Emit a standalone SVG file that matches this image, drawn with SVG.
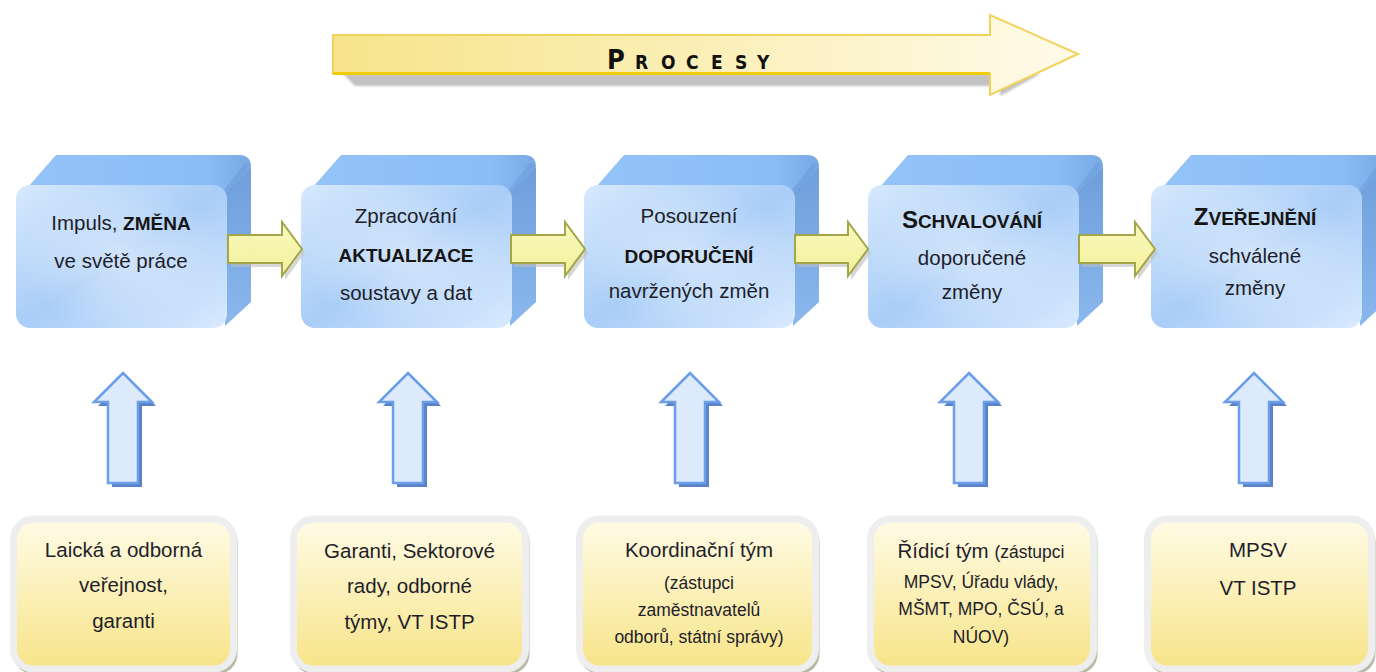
<svg xmlns="http://www.w3.org/2000/svg" xmlns:xlink="http://www.w3.org/1999/xlink" width="1376" height="672" viewBox="0 0 1376 672">
  <defs>
    <style>
      text { font-family: "Liberation Sans", Arial, sans-serif; fill: #1e1e2a; text-anchor: middle; }
      .t { font-size: 20.5px; }
      .b { font-weight: bold; font-size: 19px; fill: #151515; }
      .cap { font-weight: bold; font-size: 24px; fill: #151515; }
      .s { font-size: 17.5px; }
      .title { font-family: "Liberation Sans Narrow", "DejaVu Sans Condensed", "Liberation Sans", sans-serif; font-weight: bold; fill: #111; text-anchor: start; }
      .front { fill: url(#gFront); }
      .hl { fill: url(#gHl); }
      .topface { fill: url(#gTop); }
      .side { fill: url(#gSide); }
      .bevel { stroke: #6a98d4; stroke-width: 6; stroke-opacity: 0.45; stroke-linecap: round; }
      .actor { fill: url(#gYellow); stroke: #eeeeee; stroke-width: 7; }
      .actorShadow { fill: #b6bba8; }
      .flow { fill: url(#gFlow); stroke: #a2a648; stroke-width: 2; stroke-linejoin: miter; }
      .flowShadow { fill: #bdbdbd; opacity: 0.6; }
      .up { fill: #dceafc; stroke: #6a9ee8; stroke-width: 2.5; stroke-linejoin: miter; }
      .upShadow { fill: #3e6cc0; opacity: 0.85; }
    </style>
    <linearGradient id="gFront" x1="0" y1="0" x2="1" y2="1">
      <stop offset="0" stop-color="#d6e9fd"/>
      <stop offset="0.5" stop-color="#a9cdf7"/>
      <stop offset="1" stop-color="#d9eafe"/>
    </linearGradient>
    <radialGradient id="gHl" cx="0.5" cy="0.5" r="0.5">
      <stop offset="0" stop-color="#ffffff" stop-opacity="0.45"/>
      <stop offset="1" stop-color="#ffffff" stop-opacity="0"/>
    </radialGradient>
    <linearGradient id="gTop" x1="0" y1="0" x2="1" y2="0">
      <stop offset="0" stop-color="#93c3f8"/>
      <stop offset="0.8" stop-color="#8bbcf5"/>
      <stop offset="1" stop-color="#78a9e4"/>
    </linearGradient>
    <linearGradient id="gSide" x1="0" y1="0" x2="0" y2="1">
      <stop offset="0" stop-color="#6f9fdb"/>
      <stop offset="0.5" stop-color="#7cabe4"/>
      <stop offset="1" stop-color="#8ab8ee"/>
    </linearGradient>
    <linearGradient id="gYellow" x1="0" y1="0" x2="0" y2="1">
      <stop offset="0" stop-color="#fffbe6"/>
      <stop offset="1" stop-color="#f7e488"/>
    </linearGradient>
    <linearGradient id="gFlow" x1="0" y1="0" x2="0" y2="1">
      <stop offset="0" stop-color="#f9f8bc"/>
      <stop offset="1" stop-color="#f3f19c"/>
    </linearGradient>
    <linearGradient id="gTitle" x1="0" y1="0" x2="1" y2="0">
      <stop offset="0" stop-color="#f7e48a"/>
      <stop offset="0.5" stop-color="#fbefb8"/>
      <stop offset="1" stop-color="#fffbea"/>
    </linearGradient>
    <filter id="soft" x="-5%" y="-30%" width="110%" height="160%">
      <feGaussianBlur stdDeviation="1.2"/>
    </filter>
    <!-- bevelled process block, 211 px wide front face -->
    <g id="block">
      <path class="topface" d="M12,187 L40,155 L223,155 Q235,155 235,167 L213,197 Z"/>
      <path class="side" d="M207,197 L235,167 L235,302 L209,326 Z"/>
      <line class="bevel" x1="210" y1="192" x2="230" y2="166"/>
      <rect class="front" x="0" y="185" width="211" height="143" rx="14"/>
      <rect class="hl" x="0" y="185" width="211" height="143" rx="14"/>
    </g>
  </defs>

  <rect width="1376" height="672" fill="#ffffff"/>

  <!-- title arrow -->
  <g id="procesy">
    <path d="M343,74 L1000,74 L1040,74 L1000,96 L1000,86 L355,86 Z" fill="#c2c2c2" filter="url(#soft)"/>
    <path d="M333,35 L990,35 L990,15 L1078,54 L990,95 L990,74 L333,74 Z" fill="url(#gTitle)" stroke="#f2d35a" stroke-width="2"/>
    <line x1="333" y1="73.5" x2="990" y2="73.5" stroke="#f0cc00" stroke-width="3"/>
    <text class="title" y="69"><tspan x="607" font-size="27">P</tspan><tspan font-size="19" x="635 661 686 711 735 757">ROCESY</tspan></text>
  </g>

  <!-- process blocks -->
  <g id="impuls">
    <use xlink:href="#block" x="16"/>
    <text class="t" x="121" y="230">Impuls, <tspan class="b">ZMĚNA</tspan></text>
    <text class="t" x="121" y="268">ve světě práce</text>
  </g>
  <g id="zpracovani">
    <use xlink:href="#block" x="301"/>
    <text class="t" x="406" y="223">Zpracování</text>
    <text class="b" x="406" y="262">AKTUALIZACE</text>
    <text class="t" x="406" y="300">soustavy a dat</text>
  </g>
  <g id="posouzeni">
    <use xlink:href="#block" x="584"/>
    <text class="t" x="689" y="223">Posouzení</text>
    <text class="b" x="689" y="263">DOPORUČENÍ</text>
    <text class="t" x="689" y="298">navržených změn</text>
  </g>
  <g id="schvalovani">
    <use xlink:href="#block" x="868"/>
    <text x="972" y="228"><tspan class="cap">S</tspan><tspan class="b">CHVALOVÁNÍ</tspan></text>
    <text class="t" x="972" y="265">doporučené</text>
    <text class="t" x="972" y="299">změny</text>
  </g>
  <g id="zverejneni">
    <use xlink:href="#block" x="1151"/>
    <text x="1255" y="225"><tspan class="cap">Z</tspan><tspan class="b">VEŘEJNĚNÍ</tspan></text>
    <text class="t" x="1255" y="263">schválené</text>
    <text class="t" x="1255" y="295">změny</text>
  </g>

  <!-- actors -->
  <g id="verejnost">
    <rect class="actorShadow" x="13.5" y="522" width="224" height="152" rx="20"/>
    <rect class="actor" x="13.5" y="519" width="220" height="150" rx="20"/>
    <text class="t" x="123.5" y="557">Laická a odborná</text>
    <text class="t" x="123.5" y="592">veřejnost,</text>
    <text class="t" x="123.5" y="628">garanti</text>
  </g>
  <g id="garanti">
    <rect class="actorShadow" x="293.5" y="522" width="236" height="152" rx="20"/>
    <rect class="actor" x="293.5" y="519" width="232" height="150" rx="20"/>
    <text class="t" x="409.5" y="558">Garanti, Sektorové</text>
    <text class="t" x="409.5" y="593">rady, odborné</text>
    <text class="t" x="409.5" y="629">týmy, VT ISTP</text>
  </g>
  <g id="koordinacni-tym">
    <rect class="actorShadow" x="579.5" y="522" width="240" height="152" rx="20"/>
    <rect class="actor" x="579.5" y="519" width="236" height="150" rx="20"/>
    <text class="t" x="699" y="557">Koordinační tým</text>
    <text class="s" x="699" y="589">(zástupci</text>
    <text class="s" x="699" y="616">zaměstnavatelů</text>
    <text class="s" x="699" y="643">odborů, státní správy)</text>
  </g>
  <g id="ridici-tym">
    <rect class="actorShadow" x="870.5" y="522" width="227" height="152" rx="20"/>
    <rect class="actor" x="870.5" y="519" width="223" height="150" rx="20"/>
    <text class="t" x="981" y="558">Řídicí tým <tspan class="s">(zástupci</tspan></text>
    <text class="s" x="981" y="588">MPSV, Úřadu vlády,</text>
    <text class="s" x="981" y="615">MŠMT, MPO, ČSÚ, a</text>
    <text class="s" x="981" y="643">NÚOV)</text>
  </g>
  <g id="mpsv">
    <rect class="actorShadow" x="1147.5" y="522" width="228" height="152" rx="20"/>
    <rect class="actor" x="1147.5" y="519" width="224" height="150" rx="20"/>
    <text class="t" x="1258" y="557">MPSV</text>
    <text class="t" x="1258" y="595">VT ISTP</text>
  </g>

  <!-- connectors -->
  <g id="connectors">
    <!-- process flow -->
    <g transform="translate(3,4)">
      <path class="flowShadow" d="M228,235 L282,235 L282,222 L302,249 L282,276 L282,263 L228,263 Z"/>
      <path class="flowShadow" d="M511,235 L565,235 L565,222 L585,249 L565,276 L565,263 L511,263 Z"/>
      <path class="flowShadow" d="M795,235 L848,235 L848,222 L868,249 L848,276 L848,263 L795,263 Z"/>
      <path class="flowShadow" d="M1079,235 L1135,235 L1135,222 L1155,249 L1135,276 L1135,263 L1079,263 Z"/>
    </g>
    <path class="flow" d="M228,235 L282,235 L282,222 L302,249 L282,276 L282,263 L228,263 Z"/>
    <path class="flow" d="M511,235 L565,235 L565,222 L585,249 L565,276 L565,263 L511,263 Z"/>
    <path class="flow" d="M795,235 L848,235 L848,222 L868,249 L848,276 L848,263 L795,263 Z"/>
    <path class="flow" d="M1079,235 L1135,235 L1135,222 L1155,249 L1135,276 L1135,263 L1079,263 Z"/>

    <!-- actor inputs -->
    <g transform="translate(4,4)">
      <path class="upShadow" d="M123,373 L152,402 L138,402 L138,483 L108,483 L108,402 L94,402 Z"/>
      <path class="upShadow" d="M408,373 L437,402 L423,402 L423,483 L393,483 L393,402 L379,402 Z"/>
      <path class="upShadow" d="M690,373 L719,402 L705,402 L705,483 L675,483 L675,402 L661,402 Z"/>
      <path class="upShadow" d="M969,373 L998,402 L984,402 L984,483 L954,483 L954,402 L940,402 Z"/>
      <path class="upShadow" d="M1254,373 L1283,402 L1269,402 L1269,483 L1239,483 L1239,402 L1225,402 Z"/>
    </g>
    <path class="up" d="M123,373 L152,402 L138,402 L138,483 L108,483 L108,402 L94,402 Z"/>
    <path class="up" d="M408,373 L437,402 L423,402 L423,483 L393,483 L393,402 L379,402 Z"/>
    <path class="up" d="M690,373 L719,402 L705,402 L705,483 L675,483 L675,402 L661,402 Z"/>
    <path class="up" d="M969,373 L998,402 L984,402 L984,483 L954,483 L954,402 L940,402 Z"/>
    <path class="up" d="M1254,373 L1283,402 L1269,402 L1269,483 L1239,483 L1239,402 L1225,402 Z"/>
  </g>
</svg>
